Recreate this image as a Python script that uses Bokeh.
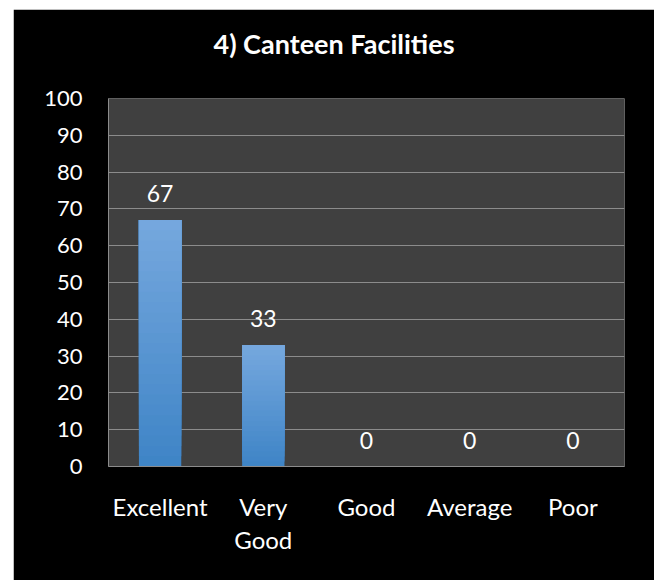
from bokeh.plotting import figure
from bokeh.models import Range1d, ColumnDataSource, LabelSet, LinearAxis, FixedTicker
from bokeh.core.properties import value
from bokeh.embed import file_html
from bokeh.resources import INLINE

title_text = "4) Canteen Facilities"
categories = ["Excellent", "Very Good", "Good", "Average", "Poor"]
values = [67, 33, 0, 0, 0]
y_ticks = [0, 10, 20, 30, 40, 50, 60, 70, 80, 90, 100]

FONT = "Lato"
W, H = 641, 571
BL, BR, BT, BB = 95, 30, 89, 114

xpos = [i + 0.5 for i in range(len(categories))]

p = figure(x_range=Range1d(0, len(categories)), y_range=Range1d(0, 100),
           width=W, height=H, margin=(9, 0, 0, 13),
           output_backend="svg", toolbar_location=None,
           min_border_left=BL, min_border_right=BR,
           min_border_top=BT, min_border_bottom=BB)

p.background_fill_color = "#404040"
p.border_fill_color = "black"
p.outline_line_color = None

xa = p.below[0]
ya = p.left[0]

# gradient bars: overlapping slices per bar, light at top, dark at bottom
n = 24
dark = (62, 132, 198)
light = (118, 168, 222)
xs, bots, tops, cols = [], [], [], []
for x, v in zip(xpos, values):
    if v <= 0:
        continue
    for k in range(n):
        t = (k + 0.5) / n
        rgb = tuple(int(round(dark[j] + (light[j] - dark[j]) * t)) for j in range(3))
        xs.append(x)
        bots.append(v * k / n)
        tops.append(v)
        cols.append("#%02x%02x%02x" % rgb)
bar_src = ColumnDataSource(dict(x=xs, bottom=bots, top=tops, color=cols))
p.vbar(x="x", bottom="bottom", top="top", width=0.41, source=bar_src,
       fill_color="color", line_color=None)

# data labels
lab_src = ColumnDataSource(dict(x=xpos, y=values, t=[str(v) for v in values]))
p.add_layout(LabelSet(x="x", y="y", text="t", source=lab_src, y_offset=18,
                      text_align="center", text_baseline="alphabetic",
                      text_color="white", text_font=value(FONT),
                      text_font_size="23px"))

# y axis
ya.ticker = y_ticks
ya.axis_line_color = "#8c8c8c"
ya.major_tick_line_color = None
ya.minor_tick_line_color = None
ya.major_tick_out = 0
ya.major_label_standoff = 26
ya.major_label_text_color = "white"
ya.major_label_text_font = FONT
ya.major_label_text_font_size = "22px"

# x axis: category labels wrapped onto two lines like the original
line1 = [c.split(" ")[0] if " " in c else c for c in categories]
line2 = [c.split(" ", 1)[1] if " " in c else "" for c in categories]

xa.ticker = FixedTicker(ticks=xpos)
xa.major_label_overrides = {x: t for x, t in zip(xpos, line1)}
xa.axis_line_color = "#8c8c8c"
xa.major_tick_line_color = None
xa.minor_tick_line_color = None
xa.major_tick_out = 0
xa.major_label_standoff = 25
xa.major_label_text_color = "white"
xa.major_label_text_font = FONT
xa.major_label_text_font_size = "24px"

xb = LinearAxis(ticker=FixedTicker(ticks=xpos),
                major_label_overrides={x: t for x, t in zip(xpos, line2)})
xb.axis_line_color = None
xb.major_tick_line_color = None
xb.minor_tick_line_color = None
xb.major_tick_out = 0
xb.major_tick_in = 0
xb.major_label_standoff = 1
xb.major_label_text_color = "white"
xb.major_label_text_font = FONT
xb.major_label_text_font_size = "24px"
p.add_layout(xb, "below")

# title: centred on the whole chart (not the plot frame), drawn as a top axis label
frame_w = W - BL - BR
tc = (W / 2 - BL) / frame_w * len(categories)
ta = LinearAxis(ticker=FixedTicker(ticks=[tc]),
                major_label_overrides={tc: title_text})
ta.axis_line_color = None
ta.major_tick_line_color = None
ta.minor_tick_line_color = None
ta.major_tick_out = 0
ta.major_tick_in = 0
ta.major_label_standoff = 39
ta.major_label_text_color = "white"
ta.major_label_text_font = FONT
ta.major_label_text_font_size = "27px"
ta.major_label_text_font_style = "bold"
p.add_layout(ta, "above")

p.xgrid.grid_line_color = None
p.ygrid.grid_line_color = "#8c8c8c"
p.ygrid.grid_line_width = 1

open("out.html", "w").write(file_html(p, INLINE))
